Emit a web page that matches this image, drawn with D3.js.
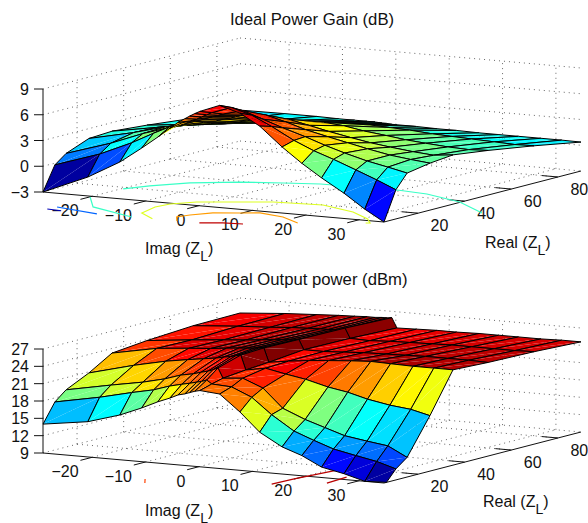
<!DOCTYPE html>
<html>
<head>
<meta charset="utf-8">
<script src="https://cdn.jsdelivr.net/npm/d3@7/dist/d3.min.js"></script>
<style>
body { margin: 0; background: #fff; }
text { font-family: "Liberation Sans", Arial, sans-serif; fill: #111; }
</style>
</head>
<body>
<div id="chart"></div>
<script>
// grid of the two surfaces
var imagValues = [-29.2, -20.8, -14.8, -10.7, -7.7, -5.4, -3.9, -2.6, -1.7, -0.74, 0.2, 3.9, 7.7, 11.4, 15.6, 19.3, 23, 27.2, 31.1, 34.7];
var realValues = [5.4, 10.5, 15.3, 25.1, 35, 50, 69.8, 89.9];

// one row per real value
var gainValues = [
    [-3, -0.8, 1.28, 3.13, 4.57, 5.74, 6.5, 7, 7.35, 7.7, 8, 8.9, 8.2, 6.9, 4.7, 3, 1.5, -0.05, -1.7, -3],
    [-0.2, 1.52, 3.16, 4.5, 5.4, 6, 6.3, 6.6, 6.9, 7.2, 7.5, 8.3, 7.6, 6.5, 5.1, 4.1, 3.3, 2.3, 1.35, 0.4],
    [0.8, 2.45, 3.9, 4.7, 5.3, 5.8, 6.1, 6.4, 6.6, 6.8, 7, 7.6, 6.8, 6, 5.2, 4.4, 3.7, 3, 2.5, 2],
    [1.85, 3, 4, 4.5, 4.9, 5.2, 5.5, 5.7, 5.9, 6.1, 6.3, 6.4, 5.8, 5.1, 4.5, 4, 3.5, 3, 2.7, 2.47],
    [2, 2.9, 3.5, 3.9, 4.2, 4.4, 4.6, 4.8, 4.9, 5.1, 5.2, 5.2, 4.7, 4.2, 3.7, 3.3, 3, 2.7, 2.5, 2.74],
    [1.65, 2.2, 2.6, 2.9, 3.1, 3.2, 3.3, 3.4, 3.5, 3.6, 3.7, 3.8, 3.6, 3.2, 2.9, 2.6, 2.4, 2.2, 2.1, 2.2],
    [1.07, 1.4, 1.6, 1.8, 1.9, 1.9, 2, 2, 2, 2, 2, 2.1, 2, 1.9, 1.7, 1.6, 1.5, 1.4, 1.3, 1.35],
    [0.6, 0.65, 0.65, 0.6, 0.6, 0.6, 0.6, 0.55, 0.55, 0.5, 0.5, 0.5, 0.45, 0.45, 0.4, 0.4, 0.4, 0.4, 0.4, 0.37]
];
var powerValues = [
    [14, 15.1, 16.75, 18.3, 19.6, 20.45, 21.1, 21.4, 21.7, 22, 22.2, 21.9, 19.1, 15.9, 13.7, 12.5, 10.8, 10, 9, 8.5],
    [17.3, 18.8, 20.1, 20.9, 21.8, 22.3, 22.6, 22.9, 23.1, 23.4, 22.8, 22.6, 21.1, 18.4, 15.9, 14.6, 13.4, 12.6, 11.9, 10.9],
    [18.9, 20.4, 21.4, 22.3, 23.2, 23.6, 24, 24.3, 24.6, 25, 23.3, 23.6, 22.2, 19, 17.4, 16.3, 15.2, 14.6, 14.1, 12.4],
    [20.8, 22.8, 24, 24.6, 25, 25.3, 25.6, 25.8, 26, 26.2, 23.7, 24.3, 23.6, 23, 22, 21.4, 20.5, 19.8, 19.4, 18.6],
    [23.2, 24.7, 25.2, 25.5, 25.8, 26, 26.1, 26.2, 26.3, 26.4, 24, 24.5, 24.9, 25.2, 25.5, 25.7, 25.6, 25.5, 25.5, 25.5],
    [23.8, 24.6, 25.1, 25.4, 25.7, 25.9, 26, 26.1, 26.1, 26.3, 24.6, 24.6, 24.8, 25, 25.1, 25.2, 25.3, 25.3, 25.3, 25.2],
    [24.3, 24.9, 25.2, 25.5, 25.6, 25.7, 25.7, 25.8, 25.8, 26.2, 24.5, 24.4, 24.6, 24.7, 24.8, 24.9, 24.9, 24.9, 24.9, 25],
    [24.4, 25, 25.3, 25.5, 25.6, 25.7, 25.7, 25.8, 25.8, 25.9, 24.2, 24.3, 24.4, 24.4, 24.5, 24.5, 24.5, 24.5, 24.6, 24.6]
];

// contour lines on the floor, [imag, real] pairs
var gainContourLevels = [-2.7, -0.5, 2.2, 2.2, 4.3, 6, 8.8];
var gainContours = [
    [[-28.7, 6.1], [-25.8, 5.4]],
    [[-28.4, 9.6], [-19.1, 5.4]],
    [[-29.2, 25.6], [-23.4, 13.6], [-12.6, 5.4]],
    [[-28.9, 39.1], [-26.8, 45.7], [-22.8, 53.8], [-16.3, 60.4], [-9.7, 63.9], [-4, 66.7], [10, 67.6], [16.3, 65.9], [25.2, 59.6], [34.3, 48.4]],
    [[-8.7, 5.4], [-13.3, 11.4], [-14.7, 20.3], [-14.2, 25.6], [-11.6, 31], [-5.5, 35.7], [-0.9, 39.3], [7.7, 41], [15.7, 35.6], [21.5, 28.6], [24, 23.9], [23.4, 23.4]],
    [[-4.1, 5.4], [-6.3, 10.3], [-5.5, 14.2], [-3.4, 19.2], [0.4, 22.1], [3.2, 24.3], [8.6, 21.8], [13.9, 16]],
    [[0.1, 5.4], [3.4, 7.9], [6.8, 8.8]]
];
var powerContourLevels = [25.4, 25.4, 23];
var powerContours = [
    [[10.2, 13.3], [10.5, 21.8], [11.8, 37.7]],
    [[17.4, 20.5], [16.9, 30.1]],
    [[-10.2, 5.7], [-8.1, 0.8]]
];

var imagTicks = [-20, -10, 0, 10, 20, 30];
var realTicks = [20, 40, 60, 80];
var gainTicks = [-3, 0, 3, 6, 9];
var powerTicks = [9, 12, 15, 18, 21, 24, 27];

var jet = d3.scaleLinear()
    .domain([0, 0.125, 0.375, 0.625, 0.875, 1])
    .range(["#000080", "#0000ff", "#00ffff", "#ffff00", "#ff0000", "#800000"])
    .clamp(true);

var svg = d3.select("#chart").append("svg")
    .attr("width", 588)
    .attr("height", 523);

function drawPanel(p) {
    var imagX = d3.scaleLinear().domain([-29.2, 34.7]).range([0, 341]);
    var realX = d3.scaleLinear().domain([5.4, 89.9]).range([0, 197]);
    var imagY = d3.scaleLinear().domain([-29.2, 34.7]).range([0, 30]);
    var realY = d3.scaleLinear().domain([5.4, 89.9]).range([0, -51]);
    var zY = d3.scaleLinear().domain(p.zDomain).range([0, -p.zHeight]);
    var color = d3.scaleLinear().domain(p.clim).range([0, 1]);

    function project(im, re, z) {
        return [imagX(im) + realX(re), imagY(im) + realY(re) + zY(z)];
    }
    function line3(a, b, c, d, e, f) {
        var s = project(a, b, c), t = project(d, e, f);
        return "M" + s + "L" + t;
    }

    var g = svg.append("g").attr("transform", "translate(" + p.x + "," + p.y + ")");

    var imMin = imagX.domain()[0], imMax = imagX.domain()[1];
    var reMin = realX.domain()[0], reMax = realX.domain()[1];
    var zMin = p.zDomain[0], zMax = p.zDomain[1];

    // dotted box grid
    var grid = [];
    p.zTicks.forEach(function (z) {
        grid.push(line3(imMin, reMin, z, imMin, reMax, z));
        grid.push(line3(imMin, reMax, z, imMax, reMax, z));
    });
    imagTicks.forEach(function (im) {
        grid.push(line3(im, reMin, zMin, im, reMax, zMin));
        grid.push(line3(im, reMax, zMin, im, reMax, zMax));
    });
    realTicks.forEach(function (re) {
        grid.push(line3(imMin, re, zMin, imMax, re, zMin));
        grid.push(line3(imMin, re, zMin, imMin, re, zMax));
    });
    g.append("g").selectAll("path").data(grid).enter().append("path")
        .attr("d", function (d) { return d; })
        .attr("fill", "none")
        .attr("stroke", "#555")
        .attr("stroke-width", 0.9)
        .attr("stroke-dasharray", "1 4");

    // axis lines and ticks
    var axes = [
        line3(imMin, reMin, zMin, imMax, reMin, zMin),
        line3(imMax, reMin, zMin, imMax, reMax, zMin),
        line3(imMin, reMin, zMin, imMin, reMin, zMax)
    ];
    imagTicks.forEach(function (im) {
        axes.push(line3(im, reMin, zMin, im, reMin - 5, zMin));
    });
    realTicks.forEach(function (re) {
        axes.push(line3(imMax, re, zMin, imMax - 3, re, zMin));
    });
    p.zTicks.forEach(function (z) {
        var s = project(imMin, reMin, z);
        axes.push("M" + s + "L" + [s[0] - 9, s[1]]);
    });
    g.append("g").selectAll("path").data(axes).enter().append("path")
        .attr("d", function (d) { return d; })
        .attr("fill", "none")
        .attr("stroke", "#111")
        .attr("stroke-width", 1);

    // tick labels
    function minus(v) { return String(v).replace("-", "\u2212"); }
    g.append("g").selectAll("text").data(p.zTicks).enter().append("text")
        .attr("x", -14)
        .attr("y", function (d) { return project(imMin, reMin, d)[1] + 6; })
        .attr("text-anchor", "end")
        .attr("font-size", 16)
        .text(minus);
    g.append("g").selectAll("text").data(imagTicks).enter().append("text")
        .attr("x", function (d) { return project(d, reMin, zMin)[0] - 13.5; })
        .attr("y", function (d) { return project(d, reMin, zMin)[1] + 20; })
        .attr("text-anchor", "end")
        .attr("font-size", 16)
        .text(minus);
    g.append("g").selectAll("text").data(realTicks).enter().append("text")
        .attr("x", function (d) { return project(imMax, d, zMin)[0] + 12.5; })
        .attr("y", function (d) { return project(imMax, d, zMin)[1] + 18; })
        .attr("font-size", 16)
        .text(minus);

    // contours sit below the axis floor
    g.append("g").selectAll("path").data(p.contours).enter().append("path")
        .attr("d", d3.line().curve(d3.curveLinear)
            .x(function (d) { return project(d[0], d[1], p.contourZ)[0]; })
            .y(function (d) { return project(d[0], d[1], p.contourZ)[1]; }))
        .attr("fill", "none")
        .attr("stroke", function (d, i) { return jet(color(p.contourLevels[i])); })
        .attr("stroke-width", 1.2);

    // surface, painted from the back
    var surface = g.append("g");
    for (var r = realValues.length - 2; r >= 0; r--) {
        for (var c = 0; c < imagValues.length - 1; c++) {
            var zz = p.values;
            var corners = [
                [imagValues[c], realValues[r], zz[r][c]],
                [imagValues[c + 1], realValues[r], zz[r][c + 1]],
                [imagValues[c + 1], realValues[r + 1], zz[r + 1][c + 1]],
                [imagValues[c], realValues[r + 1], zz[r + 1][c]]
            ];
            var fill = jet(color(zz[r][c]));
            var pts = clipFloor(corners, zMin).map(function (v) { return project(v[0], v[1], v[2]); });
            // two triangles, the seam shows as in the printed figure
            for (var k = 1; k < pts.length - 1; k++) {
                surface.append("path")
                    .attr("d", "M" + pts[0] + "L" + pts[k] + "L" + pts[k + 1] + "Z")
                    .attr("fill", fill);
            }
            surface.append("path")
                .attr("d", "M" + pts.join("L") + "Z")
                .attr("fill", "none")
                .attr("stroke", "#000")
                .attr("stroke-width", 1)
                .attr("stroke-linejoin", "round");
        }
    }

    // titles
    svg.append("text")
        .attr("x", p.titleX).attr("y", p.titleY)
        .attr("text-anchor", "middle")
        .attr("font-size", 16.7)
        .text(p.title);
    axisLabel("Imag (Z", p.imagLabel);
    axisLabel("Real (Z", p.realLabel);
}

function axisLabel(txt, pos) {
    var t = svg.append("text")
        .attr("x", pos[0]).attr("y", pos[1])
        .attr("font-size", 16)
        .text(txt);
    t.append("tspan").attr("dy", 7).attr("font-size", 14).text("L");
    t.append("tspan").attr("dy", -7).text(")");
}

// cuts a cell at the lower z limit
function clipFloor(poly, zMin) {
    var out = [];
    poly.forEach(function (v, i) {
        var w = poly[(i + 1) % poly.length];
        if (v[2] >= zMin) out.push(v);
        if ((v[2] >= zMin) !== (w[2] >= zMin)) {
            var t = (zMin - v[2]) / (w[2] - v[2]);
            out.push([v[0] + t * (w[0] - v[0]), v[1] + t * (w[1] - v[1]), zMin]);
        }
    });
    return out;
}

drawPanel({
    x: 43, y: 192, zDomain: [-3, 9], zHeight: 103, zTicks: gainTicks,
    clim: [-3.4, 9.6], values: gainValues,
    contours: gainContours, contourLevels: gainContourLevels, contourZ: -5,
    title: "Ideal Power Gain (dB)", titleX: 312, titleY: 25,
    imagLabel: [145, 254], realLabel: [485, 248]
});
drawPanel({
    x: 43, y: 453, zDomain: [9, 27], zHeight: 104, zTicks: powerTicks,
    clim: [8.4, 26.4], values: powerValues,
    contours: powerContours, contourLevels: powerContourLevels, contourZ: 6,
    title: "Ideal Output power (dBm)", titleX: 312, titleY: 285,
    imagLabel: [145, 516], realLabel: [483, 507]
});
</script>
</body>
</html>
